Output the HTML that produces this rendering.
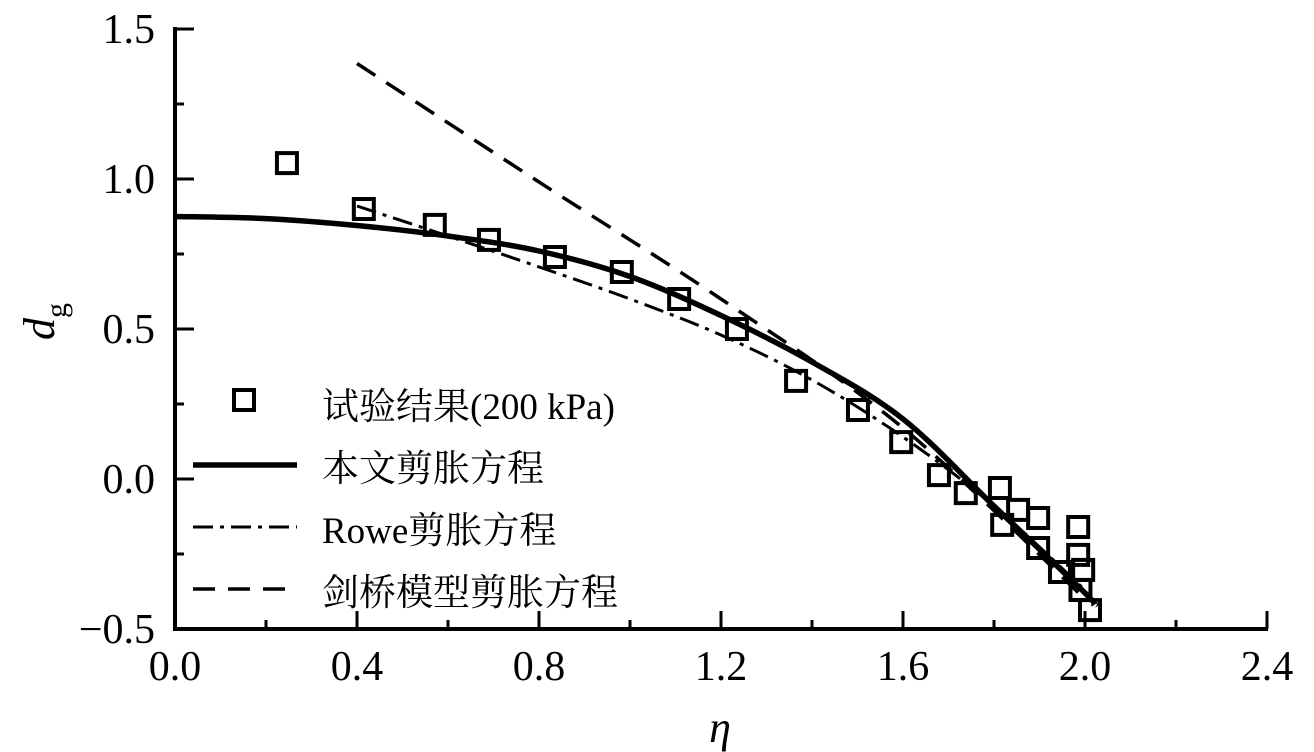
<!DOCTYPE html>
<html><head><meta charset="utf-8"><style>
html,body{margin:0;padding:0;background:#fff;}
svg{display:block;font-family:"Liberation Serif","Noto Serif CJK SC",serif;}
</style></head><body>
<svg id="chart" width="1314" height="752"></svg>
<script>
const xTicks=[0.0,0.4,0.8,1.2,1.6,2.0,2.4];
const yTicks=[-0.5,0.0,0.5,1.0,1.5];
const testX=[0.246,0.415,0.571,0.69,0.835,0.982,1.108,1.235,1.365,1.501,1.596,1.679,1.738,1.813,1.818,1.853,1.897,1.897,1.945,1.985,1.985,1.996,1.99,2.011];
const testY=[1.053,0.90,0.847,0.797,0.74,0.69,0.60,0.50,0.327,0.23,0.123,0.013,-0.047,-0.03,-0.153,-0.103,-0.13,-0.23,-0.31,-0.16,-0.253,-0.303,-0.37,-0.437];
const modelX=[0,0.2,0.4,0.6,0.8,1.0,1.2,1.4,1.6,1.8,2.0,2.02];
const modelY=[0.875,0.868,0.845,0.81,0.76,0.675,0.545,0.39,0.2,-0.09,-0.38,-0.42];
const roweX=[0.4,0.6,0.8,1.0,1.2,1.4,1.6,1.8,2.0];
const roweY=[0.91,0.81,0.707,0.6,0.48,0.33,0.14,-0.09,-0.37];
const camX=[0.4,0.8,1.2,1.6,2.0];
const camY=[1.385,0.99,0.6,0.17,-0.4];
const NS="http://www.w3.org/2000/svg";
const svg=document.getElementById('chart');
const X=v=>175+v*455, Y=v=>479-v*300;
function el(t,a,p){const e=document.createElementNS(NS,t);for(const k in a)e.setAttribute(k,a[k]);(p||svg).appendChild(e);return e;}
let a=el('line',{x1:175,y1:629,x2:1268,y2:629,stroke:'#000','stroke-width':4});


a=el('line',{x1:175,y1:27,x2:175,y2:631,stroke:'#000','stroke-width':4});


xTicks.forEach((v,i)=>{
  el('line',{x1:X(v),y1:629,x2:X(v),y2:611,stroke:'#000','stroke-width':3});
  if(i<xTicks.length-1) el('line',{x1:X(v+0.2),y1:629,x2:X(v+0.2),y2:620,stroke:'#000','stroke-width':3});
  const t=el('text',{x:X(v),y:680,'font-size':42,'text-anchor':'middle'});t.textContent=v.toFixed(1);
  
  
});
yTicks.forEach((v,i)=>{
  el('line',{x1:175,y1:Y(v),x2:194,y2:Y(v),stroke:'#000','stroke-width':3});
  if(i<yTicks.length-1) el('line',{x1:175,y1:Y(v+0.25),x2:184,y2:Y(v+0.25),stroke:'#000','stroke-width':3});
  const t=el('text',{x:155,y:Y(v)+14,'font-size':42,'text-anchor':'end'});t.textContent=(v<0?'\u2212'+(-v).toFixed(1):v.toFixed(1));
  
  
});
let t=el('text',{x:720,y:742,'font-size':44,'font-style':'italic','text-anchor':'middle'});t.textContent='η';


t=el('text',{transform:'translate(54,340) rotate(-90)','font-size':44,'font-style':'italic'});t.innerHTML='d<tspan font-size="30" font-style="normal" dy="12">g</tspan>';


function smooth(xs,ys){const P=xs.map((x,i)=>[X(x),Y(ys[i])]);let d='M'+P[0][0]+','+P[0][1];
  for(let i=0;i<P.length-1;i++){const p0=P[Math.max(0,i-1)],p1=P[i],p2=P[i+1],p3=P[Math.min(P.length-1,i+2)];
    const c1=[p1[0]+(p2[0]-p0[0])/6,p1[1]+(p2[1]-p0[1])/6],c2=[p2[0]-(p3[0]-p1[0])/6,p2[1]-(p3[1]-p1[1])/6];
    d+=' C'+c1+' '+c2+' '+p2;}return d;}
function line(xs,ys,dash,w,name){const p=el('path',{d:smooth(xs,ys),fill:'none',stroke:'#000','stroke-width':w,'stroke-dasharray':dash});
  
  }
line(camX,camY,'22,13',3.5,'cam-clay-line');
line(roweX,roweY,'20,7,4,7',3,'rowe-line');
line(modelX,modelY,'none',5.5,'model-line');
testX.forEach((x,i)=>{const r=el('rect',{x:X(x)-10,y:Y(testY[i])-10,width:20,height:20,fill:'none',stroke:'#000','stroke-width':4});
  
  });
const lg=el('g',{});


el('rect',{x:234,y:390,width:20,height:20,fill:'none',stroke:'#000','stroke-width':4},lg);
el('line',{x1:193,y1:465,x2:297,y2:465,stroke:'#000','stroke-width':5.5},lg);
el('line',{x1:193,y1:527,x2:297,y2:527,stroke:'#000','stroke-width':3,'stroke-dasharray':'20,7,4,7'},lg);
el('line',{x1:193,y1:589,x2:297,y2:589,stroke:'#000','stroke-width':3.5,'stroke-dasharray':'22,13'},lg);
[['试验结果(200 kPa)',419],['本文剪胀方程',481],['Rowe剪胀方程',543],['剑桥模型剪胀方程',605]].forEach(([s,y])=>{
  const e=el('text',{x:322,y:y,'font-size':37},lg);e.textContent=s;
  
  
});
</script>
</body></html>
